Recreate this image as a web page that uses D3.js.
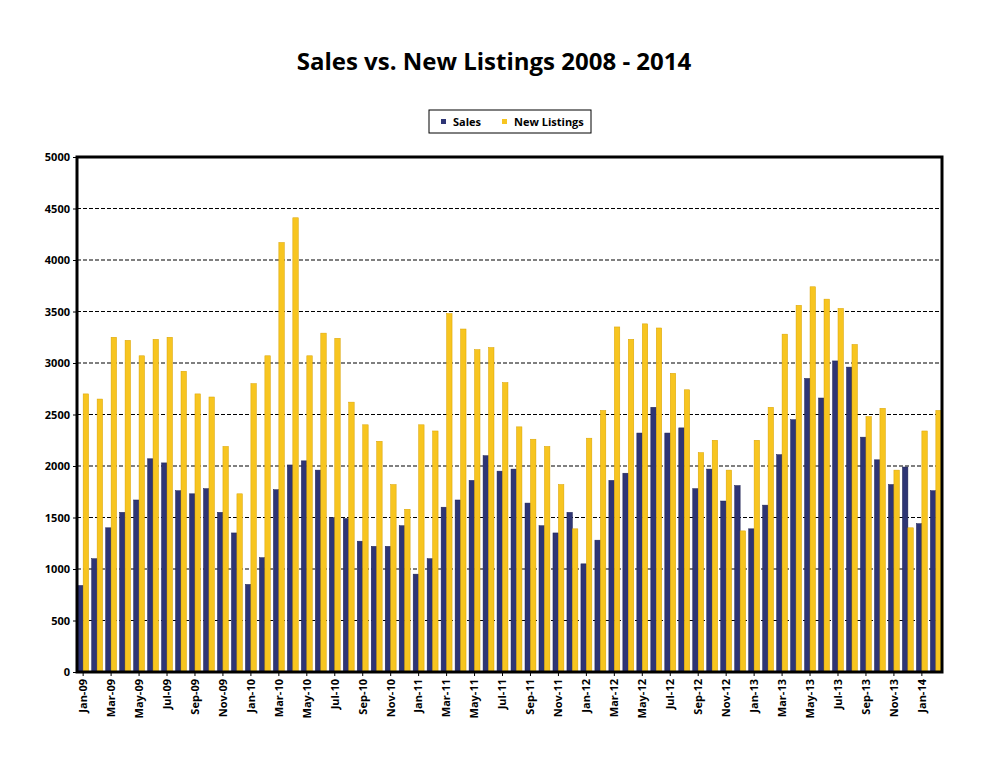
<!DOCTYPE html>
<html>
<head>
<meta charset="utf-8">
<script src="https://cdn.jsdelivr.net/npm/d3@7"></script>
<style>
  body { margin: 0; background: #fff; font-family: "Open Sans", "Liberation Sans", sans-serif; }
  .axis text { font-weight: bold; font-size: 11px; fill: #000; font-family: "Open Sans", sans-serif; }
</style>
</head>
<body>
<div id="chart"></div>
<script>
var months = ["Jan", "Feb", "Mar", "Apr", "May", "Jun", "Jul", "Aug", "Sep", "Oct", "Nov", "Dec"];
var years = ["09", "10", "11", "12", "13", "14"];

var sales = [
  840, 1100, 1400, 1550, 1670, 2070, 2030, 1760, 1730, 1780, 1550, 1350,
  850, 1110, 1770, 2010, 2050, 1960, 1500, 1490, 1270, 1220, 1220, 1420,
  950, 1100, 1600, 1670, 1860, 2100, 1950, 1970, 1640, 1420, 1350, 1550,
  1050, 1280, 1860, 1930, 2320, 2570, 2320, 2370, 1780, 1970, 1660, 1810,
  1390, 1620, 2110, 2450, 2850, 2660, 3020, 2960, 2280, 2060, 1820, 1990,
  1440, 1760
];
var listings = [
  2700, 2650, 3250, 3220, 3070, 3230, 3250, 2920, 2700, 2670, 2190, 1730,
  2800, 3070, 4170, 4410, 3070, 3290, 3240, 2620, 2400, 2240, 1820, 1580,
  2400, 2340, 3480, 3330, 3130, 3150, 2810, 2380, 2260, 2190, 1820, 1390,
  2270, 2540, 3350, 3230, 3380, 3340, 2900, 2740, 2130, 2250, 1960, 1370,
  2250, 2570, 3280, 3560, 3740, 3620, 3530, 3180, 2480, 2560, 1960, 1400,
  2340, 2540
];
var yTicks = [0, 500, 1000, 1500, 2000, 2500, 3000, 3500, 4000, 4500, 5000];

var labels = sales.map((d, i) => months[i % 12] + "-" + years[Math.floor(i / 12)]);

var width = 994, height = 768;
var plotLeft = 77, plotRight = 942, plotTop = 157, plotBottom = 672;

var svg = d3.select("#chart").append("svg")
  .attr("width", width).attr("height", height);

var x = d3.scaleBand().domain(labels).range([plotLeft, plotRight]).paddingInner(0.22).paddingOuter(0.05);
var sub = d3.scaleBand().domain(["sales", "listings"]).range([0, x.bandwidth()]);
var y = d3.scaleLinear().domain([0, 5000]).range([plotBottom, plotTop]);

/* Gridlines */
svg.append("g")
  .selectAll("line")
  .data(yTicks.slice(1, -1))
  .enter().append("line")
  .attr("x1", plotLeft).attr("x2", plotRight)
  .attr("y1", d => y(d)).attr("y2", d => y(d))
  .attr("stroke", "#000").attr("stroke-width", 1.2)
  .attr("stroke-dasharray", "4,2");

/* Bars */
var groups = svg.append("g").selectAll("g")
  .data(labels).enter().append("g")
  .attr("transform", d => `translate(${x(d)},0)`);

groups.append("rect")
  .attr("x", sub("sales"))
  .attr("width", sub.bandwidth())
  .attr("y", (d, i) => y(sales[i]))
  .attr("height", (d, i) => plotBottom - y(sales[i]))
  .attr("fill", "#2e3575")
  .attr("stroke", "#1c2050").attr("stroke-width", 0.5);

groups.append("rect")
  .attr("x", sub("listings"))
  .attr("width", sub.bandwidth())
  .attr("y", (d, i) => y(listings[i]))
  .attr("height", (d, i) => plotBottom - y(listings[i]))
  .attr("fill", "#f7c520")
  .attr("stroke", "#d9a200").attr("stroke-width", 0.5);

/* Axes */
var yAxis = d3.axisLeft(y).tickValues(yTicks).tickSize(4).tickFormat(d3.format("d"));
svg.append("g").attr("class", "axis")
  .attr("transform", `translate(${plotLeft},0)`)
  .call(yAxis)
  .call(g => g.select(".domain").remove());

var xAxis = d3.axisBottom(x)
  .tickValues(labels.filter((d, i) => i % 2 === 0))
  .tickSize(4);
svg.append("g").attr("class", "axis")
  .attr("transform", `translate(0,${plotBottom})`)
  .call(xAxis)
  .call(g => g.select(".domain").remove())
  .selectAll("text")
  .attr("transform", "rotate(-90)")
  .attr("text-anchor", "end")
  .attr("x", -7).attr("y", 0)
  .attr("dy", "0.35em");

/* Plot frame */
svg.append("rect")
  .attr("x", plotLeft).attr("y", plotTop)
  .attr("width", plotRight - plotLeft).attr("height", plotBottom - plotTop)
  .attr("fill", "none").attr("stroke", "#000").attr("stroke-width", 3);

/* Title */
svg.append("text")
  .attr("x", 494).attr("y", 70)
  .attr("text-anchor", "middle")
  .attr("font-size", "24px").attr("font-weight", "bold")
  .text("Sales vs. New Listings 2008 - 2014");

/* Legend */
var legend = svg.append("g").attr("transform", "translate(429,110)");
legend.append("rect")
  .attr("width", 162).attr("height", 23)
  .attr("fill", "#fff").attr("stroke", "#000").attr("stroke-width", 1);
var items = [{ name: "Sales", color: "#2e3575", x: 12 }, { name: "New Listings", color: "#f7c520", x: 73 }];
items.forEach(function(it) {
  legend.append("rect").attr("x", it.x).attr("y", 9).attr("width", 5).attr("height", 5).attr("fill", it.color);
  legend.append("text").attr("x", it.x + 12).attr("y", 15.5)
    .attr("font-size", "11px").attr("font-weight", "bold").text(it.name);
});
</script>
</body>
</html>
